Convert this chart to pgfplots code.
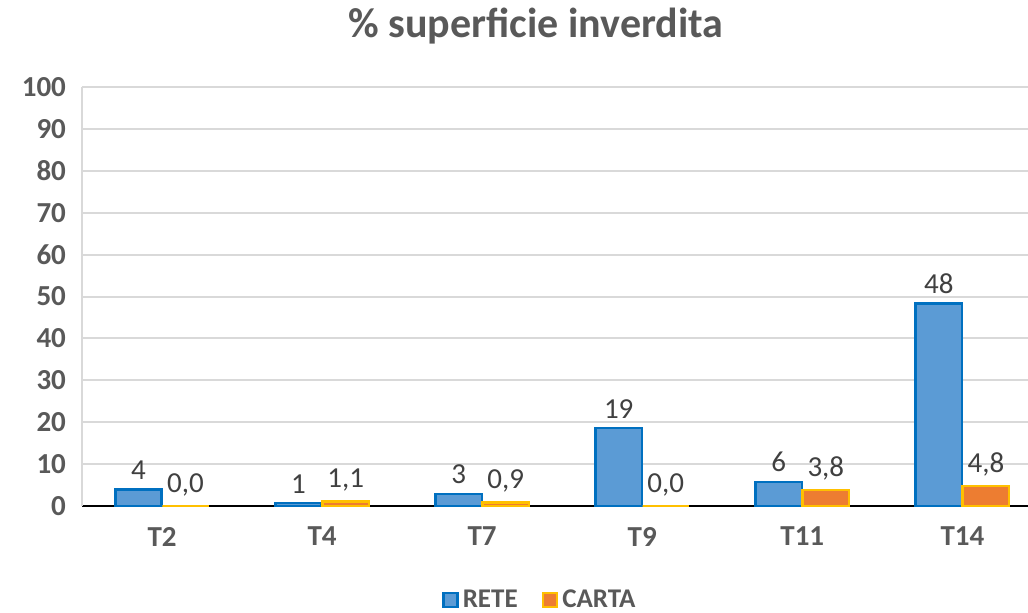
\documentclass[border=0pt]{standalone}
\usepackage{pgfplots}
\pgfplotsset{compat=1.18}
\usepackage{fontspec}
\setmainfont{Carlito}
\definecolor{txt}{HTML}{595959}
\definecolor{lbl}{HTML}{404040}
\definecolor{bluefill}{HTML}{5B9BD5}
\definecolor{blueedge}{HTML}{0070C0}
\definecolor{orfill}{HTML}{ED7D31}
\definecolor{oredge}{HTML}{FFC000}
\definecolor{gridc}{HTML}{D9D9D9}
\begin{document}
\begin{tikzpicture}
\path[use as bounding box] (-41pt,-53pt) rectangle (473pt,253pt);
\begin{axis}[
  at={(0,0)}, anchor=south west,
  scale only axis, width=473pt, height=209.5pt,
  xmin=-0.5, xmax=5.41, ymin=0, ymax=100,
  ytick={0,10,...,100},
  xtick={0,1,2,3,4,5},
  xticklabels={T2,T4,T7,T9,T11,T14},
  /pgf/number format/assume math mode=true,
  ticklabel style={font=\fontsize{14.5}{17}\selectfont\bfseries, text=txt},
  xticklabel style={yshift=-7pt},
  yticklabel style={xshift=-4.5pt},
  major tick length=0pt,
  ymajorgrids, grid style={gridc, line width=1pt},
  axis x line*=bottom, axis y line*=left,
  x axis line style={black, line width=1.4pt, -},
  y axis line style={gridc, line width=0.8pt, -},
  ybar, bar width=0.29,
  nodes near coords,
  point meta=explicit symbolic,
  every node near coord/.append style={font=\fontsize{14.5}{17}\selectfont, text=lbl, yshift=1pt},
  legend style={at={(0.485,-0.224)}, anchor=center, draw=none, legend columns=2,
    font=\fontsize{13.5}{16}\selectfont\bfseries, text=txt,
    /tikz/every even column/.append style={column sep=10pt}},
  legend image code/.code={\draw[#1] (0pt,-3.5pt) rectangle (7pt,3.5pt);},
]
\addplot[fill=bluefill, draw=blueedge, line width=1.3pt, bar shift=-0.147] coordinates {
  (0,3.9) [4] (1,0.7) [1] (2,2.9) [3] (3,18.6) [19] (4,5.7) [6] (5,48.4) [48]};
\addplot[fill=orfill, draw=oredge, line width=1.3pt, bar shift=0.147] coordinates {
  (0,0.0) [{0,0}] (1,1.1) [{1,1}] (2,0.9) [{0,9}] (3,0.0) [{0,0}] (4,3.8) [{3,8}] (5,4.8) [{4,8}]};
\legend{RETE,CARTA}
\end{axis}
\node[font=\fontsize{21}{25}\selectfont\bfseries, text=txt] at (227pt,240pt) {\% superficie inverdita};
\end{tikzpicture}
\end{document}
